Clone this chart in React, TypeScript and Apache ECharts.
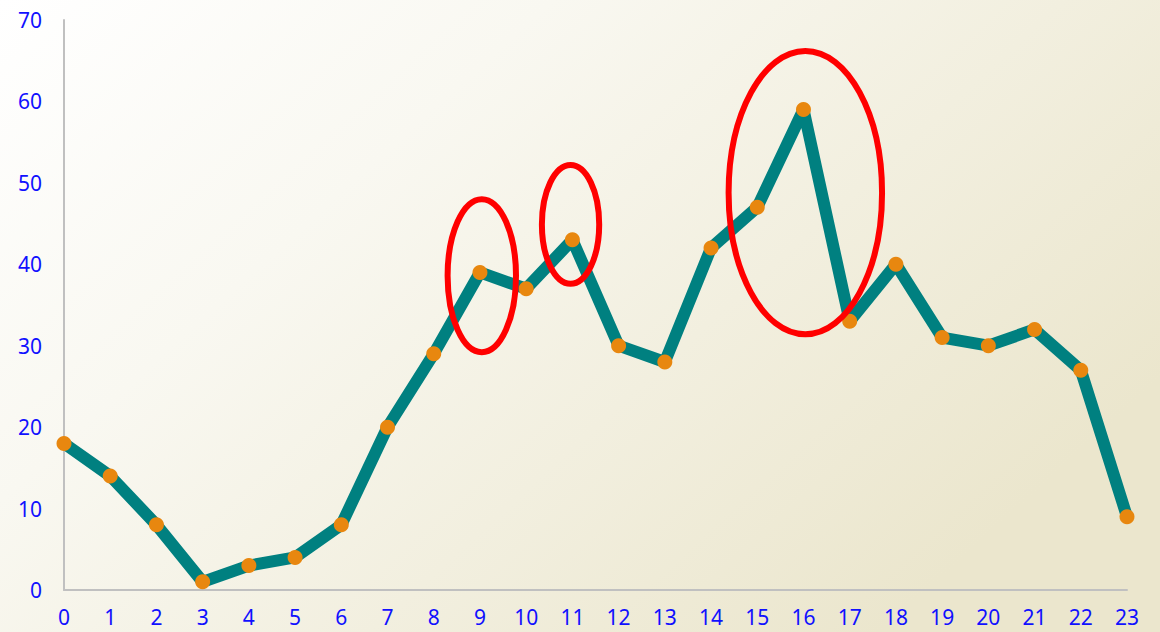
import React, { useEffect, useRef } from "react";
import * as echarts from "echarts";

const hours = ["0","1","2","3","4","5","6","7","8","9","10","11","12","13","14","15","16","17","18","19","20","21","22","23"];
const values = [18, 14, 8, 1, 3, 4, 8, 20, 29, 39, 37, 43, 30, 28, 42, 47, 59, 33, 40, 31, 30, 32, 27, 9];
// highlight ellipses: [center x (category index), center y (value), half width (categories), half height (value units)]
const highlights = [
  [9.04, 38.6, 0.74, 9.4],
  [10.96, 44.9, 0.62, 7.3],
  [16.04, 48.8, 1.66, 17.4],
];

export default function App() {
  const ref = useRef<HTMLDivElement>(null);
  useEffect(() => {
    const chart = echarts.init(ref.current!, null, { renderer: "svg" });
    chart.setOption({
      animation: false,
      backgroundColor: {
        type: "linear", x: 0, y: 0, x2: 1, y2: 0.6,
        colorStops: [
          { offset: 0, color: "#ffffff" },
          { offset: 0.35, color: "#f9f8f1" },
          { offset: 1, color: "#ebe6cd" },
        ],
      },
      grid: { left: 64, right: 33, top: 20, bottom: 42, containLabel: false },
      xAxis: {
        type: "category",
        data: hours,
        boundaryGap: false,
        axisLine: { lineStyle: { color: "#c0c0c0", width: 2 } },
        axisTick: { show: false },
        axisLabel: { color: "#1010ff", fontSize: 21, fontFamily: "Noto Sans", margin: 16, interval: 0 },
      },
      yAxis: {
        type: "value",
        min: 0, max: 70, interval: 10,
        axisLine: { show: true, lineStyle: { color: "#c0c0c0", width: 2 } },
        axisTick: { show: false },
        splitLine: { show: false },
        axisLabel: { color: "#1010ff", fontSize: 21, fontFamily: "Noto Sans", margin: 22 },
      },
      series: [
        {
          type: "line",
          data: values,
          lineStyle: { color: "#008080", width: 12 },
          itemStyle: { color: "#e8870f" },
          symbol: "circle",
          symbolSize: 15,
          showSymbol: true,
          z: 2,
        },
        {
          type: "custom",
          data: highlights,
          z: 3,
          silent: true,
          renderItem: (params: any, api: any) => {
            const xv = api.value(0);
            const base = Math.floor(xv);
            const p0 = api.coord([base, api.value(1)]);
            const p1 = api.coord([base + 1, api.value(1)]);
            const step = p1[0] - p0[0];
            const cx = p0[0] + (xv - base) * step;
            const cy = p0[1];
            const top = api.coord([base, api.value(1) + api.value(3)]);
            return {
              type: "ellipse",
              shape: { cx, cy, rx: api.value(2) * step, ry: Math.abs(cy - top[1]) },
              style: { fill: "none", stroke: "#ff0000", lineWidth: 6 },
            };
          },
        },
      ],
    });
    return () => chart.dispose();
  }, []);
  return <div ref={ref} style={{ position: "fixed", left: 0, top: 0, width: 1160, height: 632 }} />;
}
